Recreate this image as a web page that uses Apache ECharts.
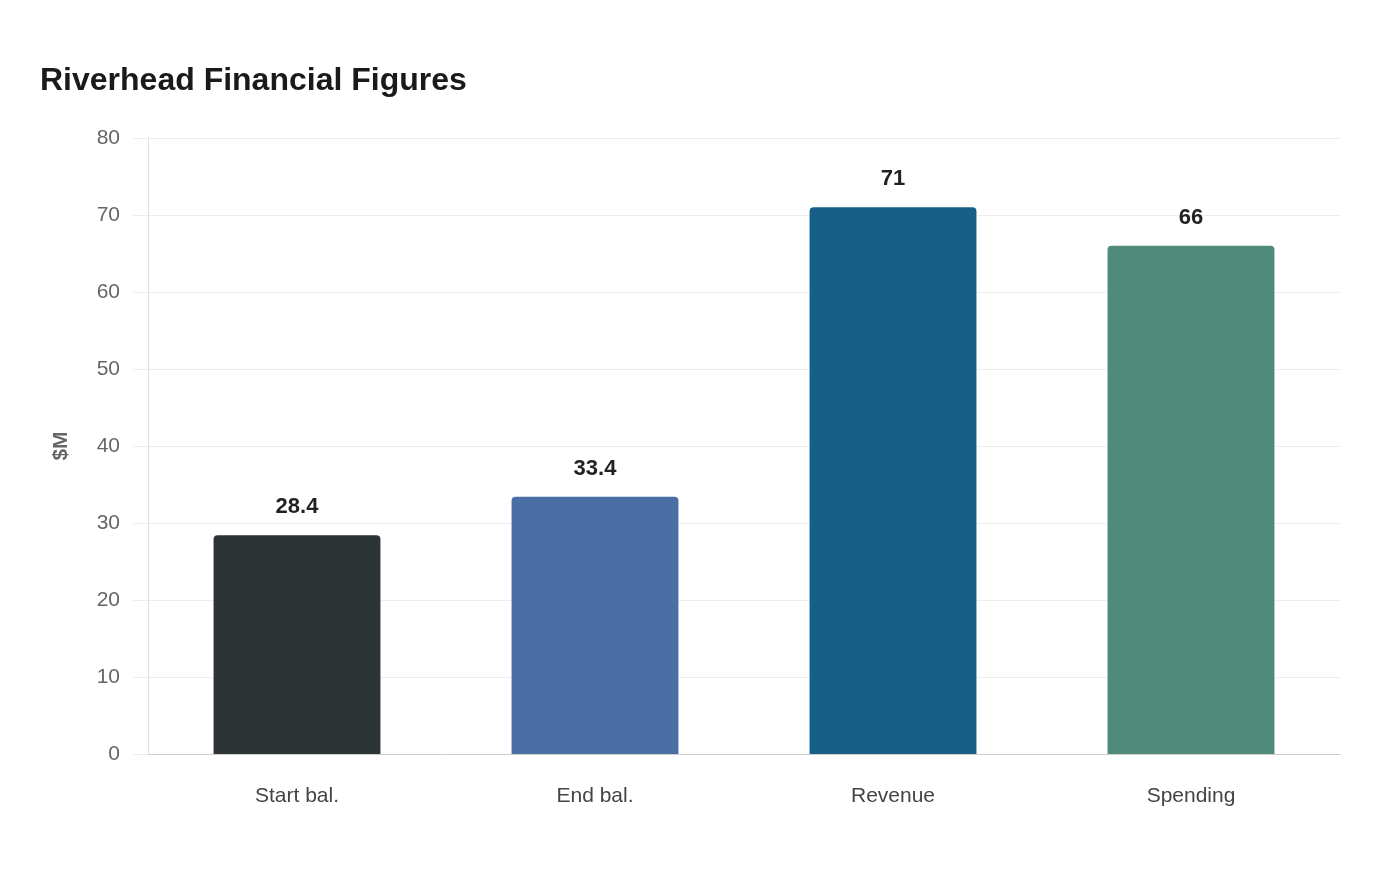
<!DOCTYPE html>
<html>
<head>
<meta charset="utf-8">
<script src="https://cdn.jsdelivr.net/npm/echarts@6/dist/echarts.min.js"></script>
<style>
  html, body { margin: 0; padding: 0; background: #fff; }
  #chart { width: 1400px; height: 880px; }
</style>
</head>
<body>
<div id="chart"></div>
<script>
const categories = ['Start bal.', 'End bal.', 'Revenue', 'Spending']
const values = [28.4, 33.4, 71, 66]
const barColors = ['#2d3436', '#4a6fa5', '#166088', '#4f8a7a']

const chart = echarts.init(document.getElementById('chart'), null, { renderer: 'canvas' })

chart.setOption({
  backgroundColor: '#ffffff',
  textStyle: { fontFamily: 'Liberation Sans, Arial, sans-serif' },
  title: {
    text: 'Riverhead Financial Figures',
    left: 40,
    top: 65,
    padding: 0,
    textStyle: { fontSize: 32, fontWeight: 'bold', color: '#1a1a1a' }
  },
  grid: { left: 148, right: 60, top: 138, bottom: 126 },
  xAxis: {
    type: 'category',
    data: categories,
    axisLine: { lineStyle: { color: '#cccccc', width: 1 } },
    axisTick: { show: false },
    axisLabel: { fontSize: 21, color: '#444', margin: 32 }
  },
  yAxis: {
    type: 'value',
    min: 0,
    max: 80,
    interval: 10,
    name: '$M',
    nameLocation: 'middle',
    nameGap: 76,
    nameTextStyle: { fontSize: 21, fontWeight: 'bold', color: '#666' },
    axisLine: { show: true, lineStyle: { color: '#e0e0e0', width: 1 } },
    axisTick: { show: true, length: 15, lineStyle: { color: '#eeeeee' } },
    axisLabel: { fontSize: 21, color: '#666', margin: 28 },
    splitLine: { lineStyle: { color: '#eeeeee', width: 1 } }
  },
  series: [{
    type: 'bar',
    data: values.map((v, i) => ({ value: v, itemStyle: { color: barColors[i] } })),
    barWidth: '56%',
    itemStyle: { borderRadius: [4, 4, 0, 0] },
    label: {
      show: true,
      position: 'top',
      distance: 17,
      fontSize: 22,
      fontWeight: 'bold',
      color: '#222'
    }
  }]
})
</script>
</body>
</html>
